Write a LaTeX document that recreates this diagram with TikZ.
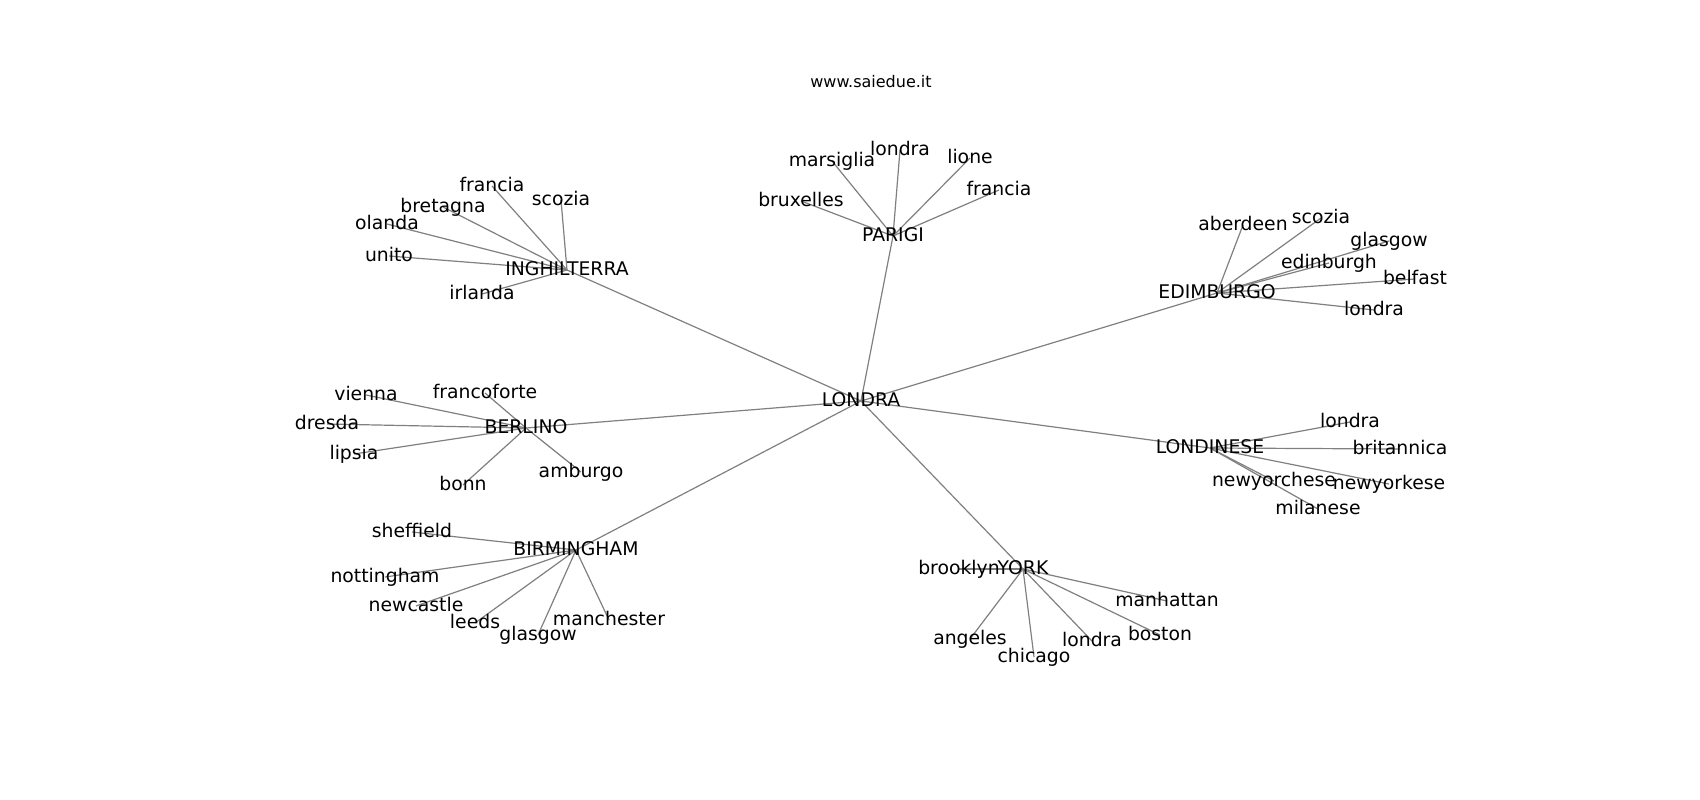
\documentclass[tikz,border=0pt]{standalone}
\usepackage{fontspec}
\setmainfont{DejaVu Sans}
\pgfdeclarelayer{bg}
\pgfsetlayers{bg,main}
\begin{document}
\begin{tikzpicture}[x=1pt,y=-1pt,
  lbl/.style={font=\fontsize{18.8}{22}\selectfont, inner sep=0pt, text height=14.29pt, text depth=3.91pt},
  ttl/.style={font=\fontsize{16}{19}\selectfont, inner sep=0pt, anchor=base},
  link/.style={draw=black!50, line width=1.2pt}]
\useasboundingbox (0,0) rectangle (1700,800);
\node[ttl] (title) at (871,88) {www.saiedue.it};
% hubs
\node[lbl] (lon) at (861,401) {LONDRA};
\node[lbl] (ing) at (567,270) {INGHILTERRA};
\node[lbl] (par) at (893,236) {PARIGI};
\node[lbl] (edi) at (1217,293) {EDIMBURGO};
\node[lbl] (ber) at (526,428) {BERLINO};
\node[lbl] (ldn) at (1210,448) {LONDINESE};
\node[lbl] (bir) at (576,550) {BIRMINGHAM};
\node[lbl] (yrk) at (1023,569) {YORK};
% INGHILTERRA
\node[lbl] (i1) at (492,186) {francia};
\node[lbl] (i2) at (561,200) {scozia};
\node[lbl] (i3) at (443,207) {bretagna};
\node[lbl] (i4) at (387,224) {olanda};
\node[lbl] (i5) at (389,256) {unito};
\node[lbl] (i6) at (482,294) {irlanda};
% PARIGI
\node[lbl] (p1) at (801,201) {bruxelles};
\node[lbl] (p2) at (832,161) {marsiglia};
\node[lbl] (p3) at (900,150) {londra};
\node[lbl] (p4) at (970,158) {lione};
\node[lbl] (p5) at (999,190) {francia};
% EDIMBURGO
\node[lbl] (e1) at (1243,225) {aberdeen};
\node[lbl] (e2) at (1321,218) {scozia};
\node[lbl] (e3) at (1389,241) {glasgow};
\node[lbl] (e4) at (1329,263) {edinburgh};
\node[lbl] (e5) at (1415,279) {belfast};
\node[lbl] (e6) at (1374,310) {londra};
% BERLINO
\node[lbl] (b1) at (366,395) {vienna};
\node[lbl] (b2) at (485,393) {francoforte};
\node[lbl] (b3) at (327,424) {dresda};
\node[lbl] (b4) at (354,454) {lipsia};
\node[lbl] (b5) at (463,485) {bonn};
\node[lbl] (b6) at (581,472) {amburgo};
% LONDINESE
\node[lbl] (l1) at (1350,422) {londra};
\node[lbl] (l2) at (1400,449) {britannica};
\node[lbl] (l3) at (1274,481) {newyorchese};
\node[lbl] (l4) at (1389,484) {newyorkese};
\node[lbl] (l5) at (1318,509) {milanese};
% BIRMINGHAM
\node[lbl] (m1) at (412,532) {sheffield};
\node[lbl] (m2) at (385,577) {nottingham};
\node[lbl] (m3) at (416,606) {newcastle};
\node[lbl] (m4) at (475,623) {leeds};
\node[lbl] (m5) at (538,635) {glasgow};
\node[lbl] (m6) at (609,620) {manchester};
% YORK
\node[lbl] (y1) at (959,569) {brooklyn};
\node[lbl] (y2) at (1167,601) {manhattan};
\node[lbl] (y3) at (970,639) {angeles};
\node[lbl] (y4) at (1034,657) {chicago};
\node[lbl] (y5) at (1092,641) {londra};
\node[lbl] (y6) at (1160,635) {boston};
\begin{pgfonlayer}{bg}
\fill[white] (0,0) rectangle (1700,800);
\foreach \a/\b in {lon/ing,lon/par,lon/edi,lon/ber,lon/ldn,lon/bir,lon/yrk,
  ing/i1,ing/i2,ing/i3,ing/i4,ing/i5,ing/i6,
  par/p1,par/p2,par/p3,par/p4,par/p5,
  edi/e1,edi/e2,edi/e3,edi/e4,edi/e5,edi/e6,
  ber/b1,ber/b2,ber/b3,ber/b4,ber/b5,ber/b6,
  ldn/l1,ldn/l2,ldn/l3,ldn/l4,ldn/l5,
  bir/m1,bir/m2,bir/m3,bir/m4,bir/m5,bir/m6,
  yrk/y1,yrk/y2,yrk/y3,yrk/y4,yrk/y5,yrk/y6}
  \draw[link] (\a.center) -- (\b.center);
\end{pgfonlayer}
\end{tikzpicture}
\end{document}
